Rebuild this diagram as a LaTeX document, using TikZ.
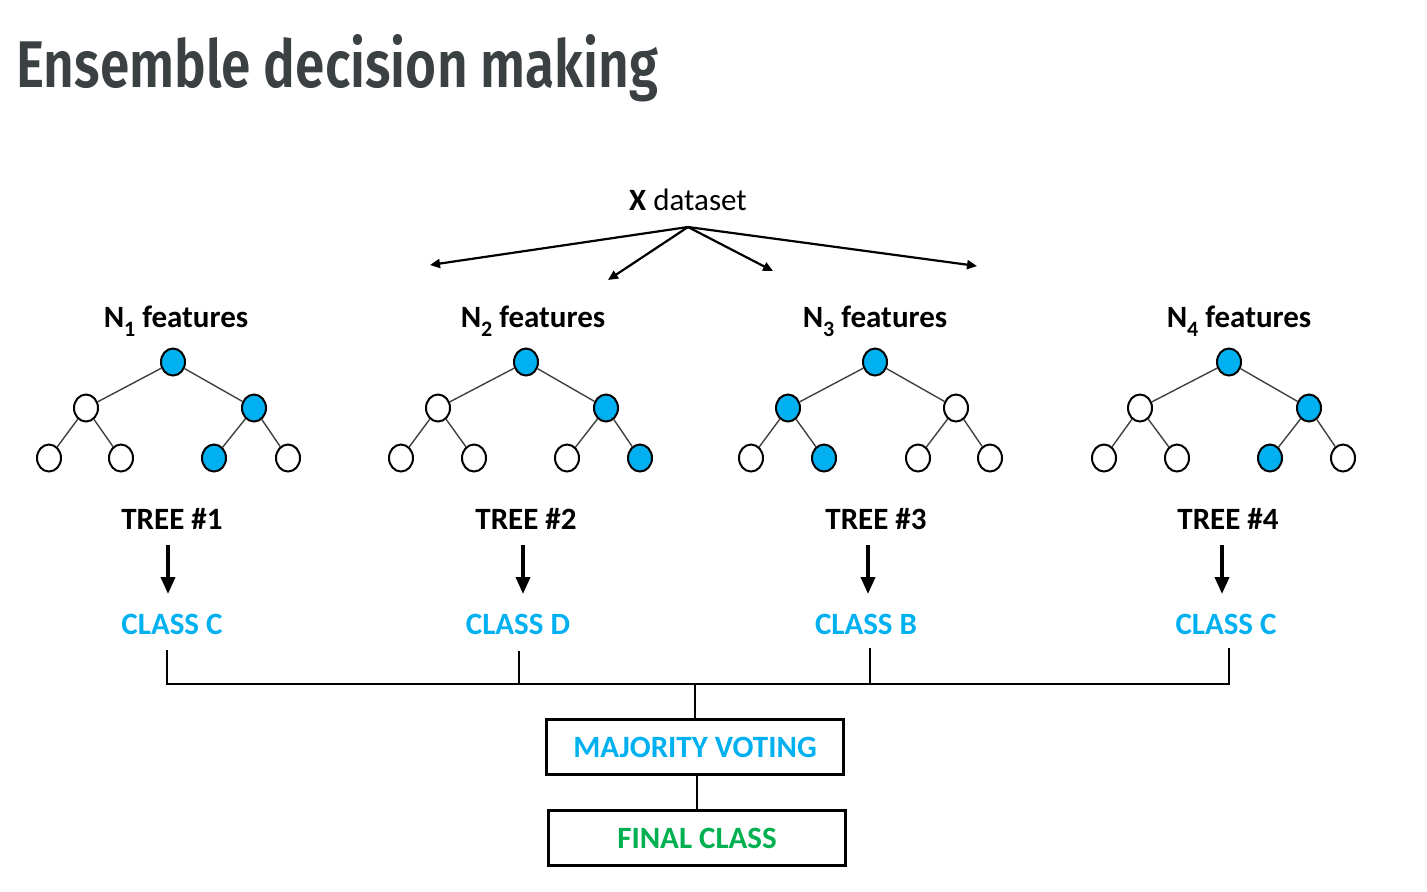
\documentclass[tikz,border=0pt]{standalone}
\usepackage{fontspec}
\setmainfont{Carlito}
\newfontfamily\titlefont{Fira Sans}[BoldFont={Fira Sans SemiBold}]
\usetikzlibrary{arrows.meta,shapes.geometric}
\definecolor{nodeblue}{HTML}{00B0F0}
\definecolor{classblue}{HTML}{00B0F0}
\definecolor{finalgreen}{HTML}{00B050}
\definecolor{titlegrey}{HTML}{3B4042}
\definecolor{edgegrey}{HTML}{404040}
\newcommand{\subidx}[1]{\raisebox{-0.6ex}{\fontsize{11}{12}\selectfont #1}}
\tikzset{
  tn/.style={ellipse,draw=black,line width=1pt,minimum width=12pt,minimum height=13.5pt,inner sep=0pt,fill=white},
  tf/.style={tn,fill=nodeblue},
  te/.style={draw=edgegrey,line width=0.7pt},
  lbl/.style={font=\fontsize{15.5}{18}\selectfont\bfseries,inner sep=0pt},
  cls/.style={lbl,text=classblue},
  thin arrow/.style={draw=black,line width=1.1pt,-{Triangle[length=5pt,width=4.5pt]}},
  thick arrow/.style={draw=black,line width=1.8pt,-{Triangle[length=8.5pt,width=7pt]}},
  conn/.style={draw=black,line width=1.4pt},
  box/.style={draw=black,line width=1.2pt,minimum width=148.5pt,minimum height=27.5pt,inner sep=0pt}
}
\begin{document}
\begin{tikzpicture}[x=0.5pt,y=-0.5pt]
\useasboundingbox (0,0) rectangle (1427,891);
\node[anchor=base west,inner sep=0pt,text=titlegrey] (title) at (16,87)
  {\resizebox{321pt}{\height}{\titlefont\fontsize{33}{40}\selectfont\bfseries Ensemble decision making}};

% X dataset
\node[inner sep=0pt,font=\fontsize{15.5}{18}\selectfont,anchor=base] (X) at (688,210) {\textbf{X} dataset};
\coordinate (xs) at (688,227);
\coordinate (a1) at (430,265);
\coordinate (a2) at (608,280);
\coordinate (a3) at (773,271);
\coordinate (a4) at (977,266);
\draw[thin arrow] (xs) -- (a1);
\draw[thin arrow] (xs) -- (a2);
\draw[thin arrow] (xs) -- (a3);
\draw[thin arrow] (xs) -- (a4);

% feature labels
\node[lbl,anchor=base] (f1) at (176,327) {N\subidx{1} features};
\node[lbl,anchor=base] (f2) at (533,327) {N\subidx{2} features};
\node[lbl,anchor=base] (f3) at (875,327) {N\subidx{3} features};
\node[lbl,anchor=base] (f4) at (1239,327) {N\subidx{4} features};

% Tree 1
\node[tf] (t1r) at (173,362) {};
\node[tn] (t1a) at (86,408) {};
\node[tf] (t1b) at (254,408) {};
\node[tn] (t1c) at (49,458) {};
\node[tn] (t1d) at (121,458) {};
\node[tf] (t1e) at (214,458) {};
\node[tn] (t1f) at (288,458) {};
% Tree 2
\node[tf] (t2r) at (526,362) {};
\node[tn] (t2a) at (438,408) {};
\node[tf] (t2b) at (606,408) {};
\node[tn] (t2c) at (401,458) {};
\node[tn] (t2d) at (474,458) {};
\node[tn] (t2e) at (567,458) {};
\node[tf] (t2f) at (640,458) {};
% Tree 3
\node[tf] (t3r) at (875,362) {};
\node[tf] (t3a) at (788,408) {};
\node[tn] (t3b) at (956,408) {};
\node[tn] (t3c) at (751,458) {};
\node[tf] (t3d) at (824,458) {};
\node[tn] (t3e) at (918,458) {};
\node[tn] (t3f) at (990,458) {};
% Tree 4
\node[tf] (t4r) at (1229,362) {};
\node[tn] (t4a) at (1140,408) {};
\node[tf] (t4b) at (1309,408) {};
\node[tn] (t4c) at (1104,458) {};
\node[tn] (t4d) at (1177,458) {};
\node[tf] (t4e) at (1270,458) {};
\node[tn] (t4f) at (1343,458) {};
\foreach \t in {1,2,3,4}{
  \draw[te] (t\t r) -- (t\t a);
  \draw[te] (t\t r) -- (t\t b);
  \draw[te] (t\t a) -- (t\t c);
  \draw[te] (t\t a) -- (t\t d);
  \draw[te] (t\t b) -- (t\t e);
  \draw[te] (t\t b) -- (t\t f);
}

% tree labels
\node[lbl,anchor=base] (tr1) at (172,529) {TREE \#1};
\node[lbl,anchor=base] (tr2) at (526,529) {TREE \#2};
\node[lbl,anchor=base] (tr3) at (876,529) {TREE \#3};
\node[lbl,anchor=base] (tr4) at (1228,529) {TREE \#4};

% class labels
\node[cls,anchor=base] (c1) at (172,634) {CLASS C};
\node[cls,anchor=base] (c2) at (518,634) {CLASS D};
\node[cls,anchor=base] (c3) at (866,634) {CLASS B};
\node[cls,anchor=base] (c4) at (1226,634) {CLASS C};

\draw[thick arrow] (168,545) -- (168,594);
\draw[thick arrow] (523,545) -- (523,594);
\draw[thick arrow] (868,545) -- (868,594);
\draw[thick arrow] (1222,545) -- (1222,594);

% boxes
\node[box] (mv) at (695,747) {\fontsize{15.5}{18}\selectfont\bfseries\color{classblue}MAJORITY VOTING};
\node[box] (fc) at (697,838) {\fontsize{15.5}{18}\selectfont\bfseries\color{finalgreen}FINAL CLASS};

% connectors
\coordinate (j) at (695,684);
\draw[conn] (167,650) |- (1229,684) -- (1229,648);
\draw[conn] (519,651) -- (519,684);
\draw[conn] (870,648) -- (870,684);
\draw[conn] (j) -- (mv.north);
\draw[conn] (fc.north) -- (fc.north |- mv.south);
\end{tikzpicture}
\end{document}
